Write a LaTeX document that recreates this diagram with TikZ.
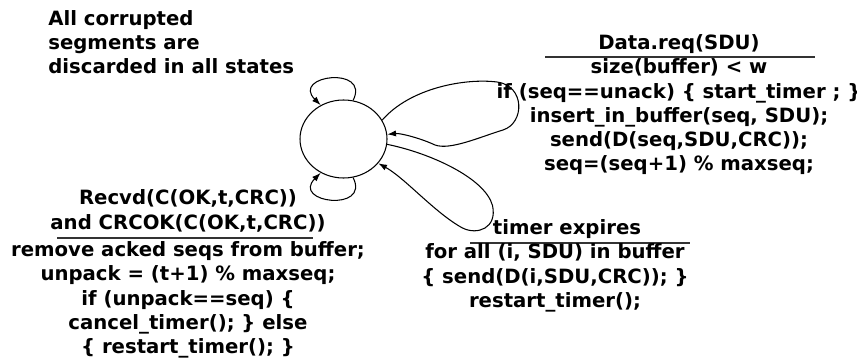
\documentclass[tikz,border=0pt]{standalone}
\usepackage{fontspec}
\setmainfont{DejaVu Sans}
\usepackage{tikz}
\usetikzlibrary{shapes.geometric,arrows.meta,positioning}
\newcommand{\lblfont}{\fontsize{11.2}{13.8}\selectfont\bfseries}

\begin{document}
\begin{tikzpicture}[
  txt/.style={align=center,inner sep=0pt,font=\lblfont},
  arr/.style={-{Latex[length=5pt,width=3.5pt]},line width=0.6pt},
  rule/.style={line width=0.6pt,black!80},
  st/.style={draw,ellipse,line width=0.6pt,minimum width=1.74cm,minimum height=1.56cm}
]
\useasboundingbox (0,0) rectangle (17.14,7.16);

% etat
\node[st] (state) at (6.87,4.38) {};

% remarque
\node[txt,align=left,anchor=west] (note) at (0.96,6.32)
  {All corrupted\\segments are\\discarded in all states};

% Data.req
\node[txt] (sendhd) at (13.58,6.28) {Data.req(SDU)};
\draw[rule] (10.9,6.02) -- (16.3,6.02);
\node[txt] (sendact) at (13.58,4.82)
  {size(buffer) < w\\if (seq==unack) \{ start\_timer ; \}\\insert\_in\_buffer(seq, SDU);\\
   send(D(seq,SDU,CRC));\\seq=(seq+1) \% maxseq;};

% Recvd
\node[txt] (ackhd) at (3.76,2.94) {Recvd(C(OK,t,CRC))\\and CRCOK(C(OK,t,CRC))};
\draw[rule] (1.14,2.40) -- (6.26,2.40);
\node[txt] (ackact) at (3.76,1.16)
  {remove acked seqs from buffer;\\unpack = (t+1) \% maxseq;\\if (unpack==seq) \{\\
   cancel\_timer(); \} else\\\{ restart\_timer(); \}};

% timer
\node[txt] (tohd) at (11.34,2.58) {timer expires};
\draw[rule] (9.4,2.30) -- (13.8,2.30);
\node[txt] (toact) at (11.1,1.60)
  {for all (i, SDU) in buffer\\\{ send(D(i,SDU,CRC)); \}\\restart\_timer();};

% boucles
\draw[arr] (state.76) .. controls +(0.35,0.7) and +(-0.6,0.6) .. (state.124);
\draw[arr] (state.-76) .. controls +(0.35,-0.7) and +(-0.6,-0.6) .. (state.-124);
\draw[arr] (state.26) .. controls (8.2,5.4) and (9.3,5.6) .. (9.94,5.52)
  .. controls (10.5,5.45) and (10.5,4.7) .. (10.06,4.56)
  .. controls (9.6,4.42) and (9.0,4.15) .. (8.7,4.26)
  .. controls (8.4,4.4) and (8.0,4.5) .. (state.6);
\draw[arr] (state.-7) .. controls (8.6,4.1) and (9.7,3.6) .. (9.85,3.05)
  .. controls (9.95,2.6) and (9.55,2.45) .. (9.25,2.6)
  .. controls (8.7,2.9) and (8.1,3.6) .. (state.-35);
\end{tikzpicture}
\end{document}
